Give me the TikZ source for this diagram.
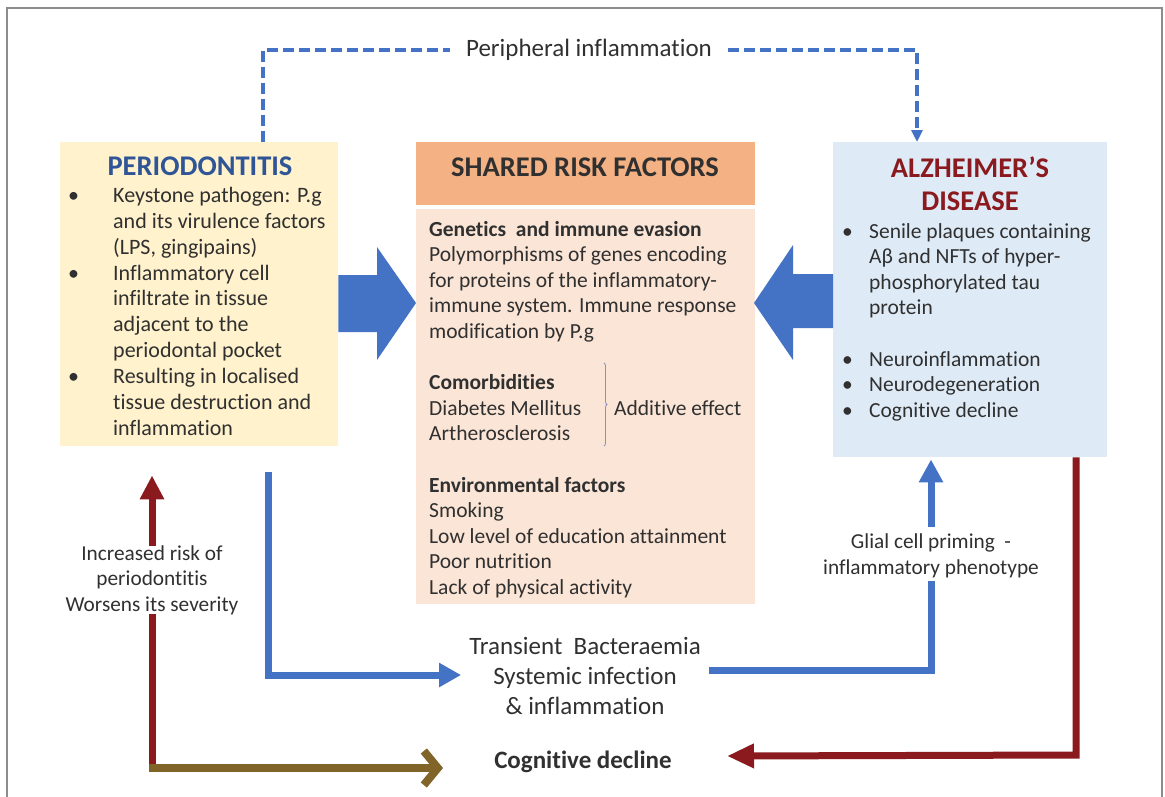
\documentclass[tikz,border=0pt]{standalone}
\usepackage{fontspec}
\setmainfont{Carlito}[Ligatures=NoCommon]
\usepackage{xcolor}
\usetikzlibrary{positioning, calc, arrows.meta, decorations.pathreplacing}

\definecolor{perioyellow}{HTML}{FFF2CC}
\definecolor{riskorange}{HTML}{F4B183}
\definecolor{riskpeach}{HTML}{FBE5D6}
\definecolor{adblue}{HTML}{DEEBF7}
\definecolor{linkblue}{HTML}{4472C4}
\definecolor{titleblue}{HTML}{2F5597}
\definecolor{darkred}{HTML}{8B1A1F}
\definecolor{olivebrown}{HTML}{806428}
\definecolor{textgray}{HTML}{303030}
\definecolor{framegray}{HTML}{8C8C8C}
\definecolor{bracegray}{HTML}{8C8CC8}

\begin{document}
\begin{tikzpicture}[x=1pt, y=-1pt, >=latex, text=textgray]

    \tikzset{
        box/.style={rectangle, inner sep=0pt, anchor=north west},
        body/.style={font=\fontsize{21.5}{25.6}\selectfont, inner sep=0pt},
        label/.style={font=\fontsize{21.3}{25.5}\selectfont, align=center},
        boxtitle/.style={font=\fontsize{28.5}{33}\selectfont\bfseries, align=center},
        bluelink/.style={linkblue, line width=7pt},
        redlink/.style={darkred, line width=7pt},
        dashlink/.style={linkblue, line width=3.5pt, dash pattern=on 11pt off 5pt}
    }

    \useasboundingbox (0,0) rectangle (1165,796);
    % outer frame, open at the bottom
    \draw[framegray, line width=1.5pt] (7,800) -- (7,8) -- (1162,8) -- (1162,800);

    % ==========================================
    % The three boxes
    % ==========================================
    \node[box, fill=perioyellow, minimum width=278pt, minimum height=304pt] (perio) at (60,142) {};
    \node[boxtitle, text=titleblue] (periotitle) at (200,166) {PERIODONTITIS};
    \node[body, font=\fontsize{22}{25.9}\selectfont, anchor=north west] (periolist) at (68,184) {%
        \begin{tabular}{@{}p{45pt}@{}l@{}}
        \textbullet & Keystone pathogen: P.g\\
                    & and its virulence factors\\
                    & (LPS, gingipains)\\
        \textbullet & Inflammatory cell\\
                    & infiltrate in tissue\\
                    & adjacent to the\\
                    & periodontal pocket\\
        \textbullet & Resulting in localised\\
                    & tissue destruction and\\
                    & inflammation
        \end{tabular}};

    \node[box, fill=riskorange, minimum width=339pt, minimum height=63pt] (riskhead) at (416,142) {};
    \node[boxtitle] (risktitle) at (585,167) {SHARED RISK FACTORS};
    \node[box, fill=riskpeach, minimum width=339pt, minimum height=395pt] (risk) at (416,209) {};
    \node[body, anchor=north west] (risklist) at (429,218) {%
        \begin{tabular}{@{}l@{}}
        \textbf{Genetics\ \ and immune evasion}\\
        Polymorphisms of genes encoding\\
        for proteins of the inflammatory-\\
        immune system. Immune response\\
        modification by P.g\\
        \\
        \textbf{Comorbidities}\\
        Diabetes Mellitus\\
        Artherosclerosis\\
        \\
        \textbf{Environmental factors}\\
        Smoking\\
        Low level of education attainment\\
        Poor nutrition\\
        Lack of physical activity
        \end{tabular}};
    \node[body, anchor=west] (additive) at (614,408) {Additive effect};
    \draw[bracegray, line width=0.8pt, decorate, decoration={brace, amplitude=3pt}]
        (604,363) -- (604,446);

    \node[box, fill=adblue, minimum width=274pt, minimum height=315pt] (ad) at (833,142) {};
    \node[boxtitle, text=darkred] (adtitle) at (970,184) {ALZHEIMER’S\\DISEASE};
    \node[body, anchor=north west] (adlist) at (842,220) {%
        \begin{tabular}{@{}p{27pt}@{}l@{}}
        \textbullet & Senile plaques containing\\
                    & Aβ and NFTs of hyper-\\
                    & phosphorylated tau\\
                    & protein\\
                    & \\
        \textbullet & Neuroinflammation\\
        \textbullet & Neurodegeneration\\
        \textbullet & Cognitive decline
        \end{tabular}};

    % block arrows into the shared risk factors
    \fill[linkblue] (perio.east |- 0,275) -- (377,275) -- (377,247) -- (416,303)
        -- (377,360) -- (377,332) -- (perio.east |- 0,332) -- cycle;
    \fill[linkblue] (ad.west |- 0,274) -- (793,274) -- (793,245) -- (754,303)
        -- (793,360) -- (793,328) -- (ad.west |- 0,328) -- cycle;

    % ==========================================
    % Peripheral inflammation (dashed link on top)
    % ==========================================
    \node[font=\fontsize{25}{30}\selectfont, inner xsep=16pt] (periph) at (589,50) {Peripheral inflammation};
    \coordinate (dashL) at (263,50);
    \coordinate (dashR) at (917,50);
    \draw[dashlink] (perio.north -| dashL) -- (dashL) -- (periph.west);
    \draw[dashlink, -{Triangle[length=12pt, width=11pt]}] (periph.east) -- (dashR) -- (dashR |- ad.north);

    % ==========================================
    % Lower links
    % ==========================================
    \node[font=\fontsize{25}{30}\selectfont, align=center, inner xsep=8pt] (bact) at (585,676)
        {Transient\ \ Bacteraemia\\Systemic infection\\\&\ inflammation};
    \node[label] (glial) at (931,556) {Glial cell priming\ \ -\\inflammatory phenotype};
    \node[label] (incrisk) at (152,580) {Increased risk of\\periodontitis\\Worsens its severity};
    \node[font=\fontsize{25}{30}\selectfont\bfseries, inner xsep=0pt] (cogdec) at (583,762) {Cognitive decline};

    \coordinate (blueL) at (268,472);
    \coordinate (cornerL) at (152,768);
    \coordinate (cornerR) at (1076,755);

    \draw[bluelink, -{Triangle[length=22pt, width=23pt]}] (blueL) |- (bact.west |- 0,675);
    \draw[bluelink] (bact.east |- 0,670) -| (glial.south) ++(0,-3pt);
    \draw[bluelink, -{Triangle[length=23pt, width=23pt]}] (glial.north) ++(0,4pt) -- (ad.south -| glial)
        [shorten >=2pt];
    \draw[redlink, -{Triangle[length=24pt, width=23pt]}] (incrisk.north) ++(0,-4pt) -- (perio.south -| incrisk)
        [shorten >=29pt];
    \draw[redlink] (incrisk.south) ++(0,4pt) -- ($(cornerL)+(0,3.5pt)$);
    \draw[olivebrown, line width=8pt, -{Straight Barb[length=14pt, width=34pt, line width=8pt]}]
        ($(cornerL)+(-3.5pt,0)$) -- (443,768);
    \draw[redlink, -{Triangle[length=27pt, width=23pt]}] (ad.south -| cornerR) -- ($(cornerR)+(0,3.5pt)$)
        -- ++(0,-3.5pt) -- (727,756);

\end{tikzpicture}
\end{document}
